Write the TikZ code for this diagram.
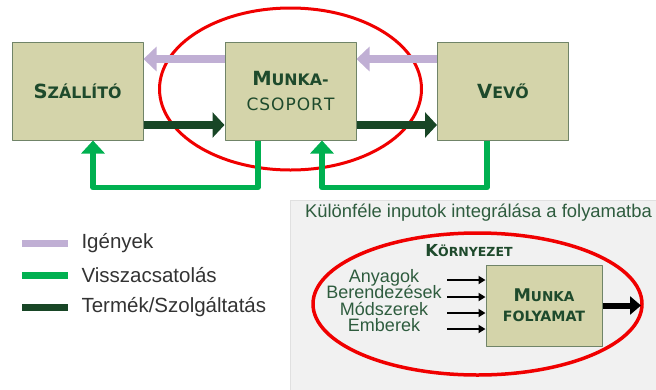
\documentclass[tikz,border=0pt]{standalone}
\usepackage{fontspec}
\setmainfont{Liberation Sans}
\newfontfamily\boxfont{DejaVu Sans}
\usetikzlibrary{arrows.meta}

\definecolor{boxfill}{RGB}{212,212,170}
\definecolor{boxedge}{RGB}{112,132,104}
\definecolor{lilac}{RGB}{192,175,212}
\definecolor{fbgreen}{RGB}{0,176,80}
\definecolor{prodgreen}{RGB}{24,70,38}
\definecolor{txtgreen}{RGB}{30,74,44}
\definecolor{lbgreen}{RGB}{46,92,62}
\definecolor{panelgray}{RGB}{241,241,241}
\definecolor{ringred}{RGB}{240,0,0}

% big first letter, the rest in small capitals
\newcommand{\capword}[4]{{\fontsize{#3}{#3}\selectfont #1}{\fontsize{#4}{#4}\selectfont #2}}

\begin{document}
\begin{tikzpicture}[x=1pt, y=-1pt, line join=round,
    box/.style={draw=boxedge, fill=boxfill, line width=1pt, inner sep=0pt,
        minimum width=131pt, minimum height=98pt, align=center,
        text=txtgreen, font=\boxfont\bfseries},
    ring/.style={draw=ringred, line width=3pt},
    need/.style={draw=lilac, line width=8pt, -{Triangle[length=13pt, width=24pt]}},
    prod/.style={draw=prodgreen, line width=8pt, -{Triangle[length=12pt, width=25pt]}},
    fb/.style={draw=fbgreen, line width=5.5pt, -{Triangle[length=13pt, width=23pt]}},
    legline/.style={line width=7pt},
    legtext/.style={anchor=west, text=black!80, font=\fontsize{20.5}{20.5}\selectfont},
    inlabel/.style={text=lbgreen, font=\fontsize{18}{18}\selectfont, inner sep=0pt,
        text height=12.5pt, text depth=3.5pt},
    inarrow/.style={draw=black, line width=2pt, -{Triangle[length=7pt, width=8pt]}},
    outarrow/.style={draw=black, line width=6pt, -{Triangle[length=11pt, width=18pt]}}]

    \useasboundingbox (0,0) rectangle (656,389);

    % ring round the team
    \draw[ring] (290.5,89) ellipse [x radius=131pt, y radius=81pt];

    % supplier, team, customer
    \node[box] (szallito) at (77.5,91) {\capword{S}{ZÁLLÍTÓ}{19.5}{15.8}};
    \node[box] (munka) at (290.5,91) {\capword{M}{UNKA-}{19.5}{15.8}\\[11pt]{\mdseries\fontsize{17}{17}\selectfont C\kern1pt S\kern1pt O\kern1pt P\kern1pt O\kern1pt R\kern1pt T}};
    \node[box] (vevo) at (503,91) {\capword{V}{EVŐ}{19.5}{15.8}};

    % requirements (upper) and products (lower)
    \draw[need] ([yshift=32pt]munka.west) -- ([yshift=32pt]szallito.east);
    \draw[need] ([yshift=32pt]vevo.west) -- ([yshift=32pt]munka.east);
    \draw[prod] ([yshift=-34pt]szallito.east) -- ([yshift=-34pt]munka.west);
    \draw[prod] ([yshift=-34pt]munka.east) -- ([yshift=-34pt]vevo.west);

    % feedback loops underneath
    \draw[fb] ([xshift=-32.5pt]munka.south) -- ++(0,47) -| ([xshift=15.5pt]szallito.south);
    \draw[fb] ([xshift=-16pt]vevo.south) -- ++(0,47) -| ([xshift=31.5pt]munka.south);

    % legend
    \node[legtext] (lgneed) at (78,243) {Igények};
    \node[legtext] (lgfb) at (78,275) {Visszacsatolás};
    \node[legtext] (lgprod) at (78,307) {Termék/Szolgáltatás};
    \draw[legline, lilac] ([xshift=-56pt]lgneed.west) -- ([xshift=-10pt]lgneed.west);
    \draw[legline, fbgreen] ([xshift=-56pt]lgfb.west) -- ([xshift=-10pt]lgfb.west);
    \draw[legline, prodgreen] ([xshift=-56pt]lgprod.west) -- ([xshift=-10pt]lgprod.west);

    % grey panel
    \draw[draw=black!12, fill=panelgray] (290,200) rectangle (662,395);
    \node[text=lbgreen, font=\fontsize{18.4}{18.4}\selectfont] (cim) at (478.5,213) {Különféle inputok integrálása a folyamatba};

    \draw[ring, line width=3.5pt] (477.5,304) ellipse [x radius=164.5pt, y radius=71pt];
    \node[text=txtgreen, font=\boxfont\bfseries] (kornyezet) at (469,251) {\capword{K}{ÖRNYEZET}{16.5}{12.5}};

    \node[box, minimum width=116pt, minimum height=81pt] (folyamat) at (544,305.5)
        {\capword{M}{UNKA}{17.5}{13.6}\\[8pt]{\fontsize{14.2}{14.2}\selectfont FOLYAMAT}};

    % inputs and output
    \foreach \ly/\ay/\txt [count=\i] in {277.5/280/Anyagok, 294/297/Berendezések, 310.5/313/Módszerek, 327/329/Emberek} {
        \node[inlabel] (in\i) at (384,\ly) {\txt};
        \coordinate (src\i) at (447,\ay);
        \draw[inarrow] (src\i) -- (src\i -| folyamat.west);
    }
    \coordinate (kimenet) at (641,305.5);
    \draw[outarrow] (folyamat.east) -- (kimenet);

\end{tikzpicture}
\end{document}
